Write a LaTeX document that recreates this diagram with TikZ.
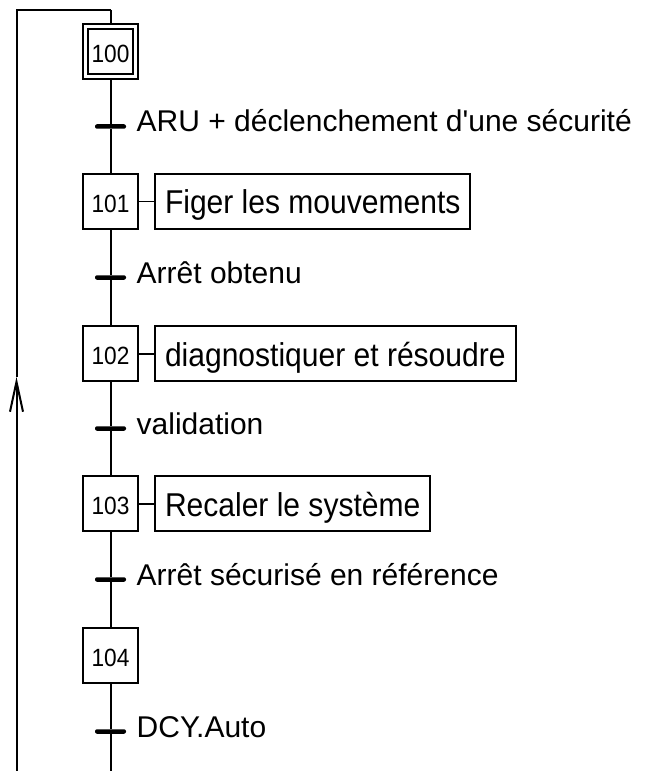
\documentclass[tikz,border=0pt]{standalone}
\usepackage{fontspec}
\setmainfont{Liberation Sans}
\newfontfamily\etroite[FakeStretch=0.91]{Liberation Sans}
\usetikzlibrary{arrows.meta,positioning}

\tikzset{
  etape/.style={draw, line width=0.04cm, minimum size=1.1cm, inner sep=0pt, text height=0.5cm, text depth=0.06cm, font=\etroite\fontsize{14.2}{16}\selectfont},
  etapeinit/.style={etape, minimum size=1.0cm, double, double distance=0.06cm, outer sep=0.07cm},
  action/.style={draw, line width=0.04cm, minimum height=1.1cm, inner xsep=0.2cm, inner ysep=0.1cm, text height=0.6cm, text depth=0.1cm, font=\etroite\fontsize{18.78}{22}\selectfont},
  transition/.style={fill=black, minimum width=0.62cm, minimum height=0.09cm, inner sep=0pt, rounded corners=0.04cm},
  receptivite/.style={inner xsep=0.1cm, inner ysep=0.05cm, text height=0.4cm, text depth=0.18cm, font=\fontsize{17.07}{20}\selectfont},
  liaison/.style={line width=0.04cm}
}

\begin{document}
\begin{tikzpicture}
\useasboundingbox (0,0) rectangle (12.9,-15.42);

\node[etapeinit] (e100) at (2.21,-1.03) {100};
\node[etape] (e101) at (2.21,-4.03) {101};
\node[etape] (e102) at (2.21,-7.07) {102};
\node[etape] (e103) at (2.21,-10.07) {103};
\node[etape] (e104) at (2.21,-13.1) {104};

\node[action, right=0.3cm of e101] (a101) {Figer les mouvements};
\node[action, right=0.3cm of e102] (a102) {diagnostiquer et résoudre};
\node[action, right=0.3cm of e103] (a103) {Recaler le système};

\node[transition] (t1) at (2.21,-2.53) {};
\node[transition] (t2) at (2.21,-5.55) {};
\node[transition] (t3) at (2.21,-8.57) {};
\node[transition] (t4) at (2.21,-11.59) {};
\node[transition] (t5) at (2.21,-14.63) {};

\node[receptivite, right=0.1cm of t1] (r1) {ARU + déclenchement d\textquotesingle une sécurité};
\node[receptivite, right=0.1cm of t2] (r2) {Arrêt obtenu};
\node[receptivite, right=0.1cm of t3] (r3) {validation};
\node[receptivite, right=0.1cm of t4] (r4) {Arrêt sécurisé en référence};
\node[receptivite, right=0.1cm of t5] (r5) {DCY.Auto};

\coordinate (hg) at (0.33,-0.2);
\coordinate (hd) at (2.21,-0.2);
\coordinate (bg) at (0.33,-15.42);
\coordinate (bd) at (2.21,-15.42);
\coordinate (fl) at (0.33,-7.54);

\draw[liaison] (hd) -- (e100);
\draw[liaison] (e100) -- (t1) -- (e101) -- (t2) -- (e102) -- (t3) -- (e103) -- (t4) -- (e104) -- (t5) -- (bd);
\draw[liaison] (e101) -- (a101);
\draw[liaison] (e102) -- (a102);
\draw[liaison] (e103) -- (a103);
\draw[liaison, -{Straight Barb[length=0.6cm,width=0.26cm]}] (bg) -- (fl);
\draw[liaison] (fl) -- (hg) -- (hd);
\end{tikzpicture}
\end{document}
